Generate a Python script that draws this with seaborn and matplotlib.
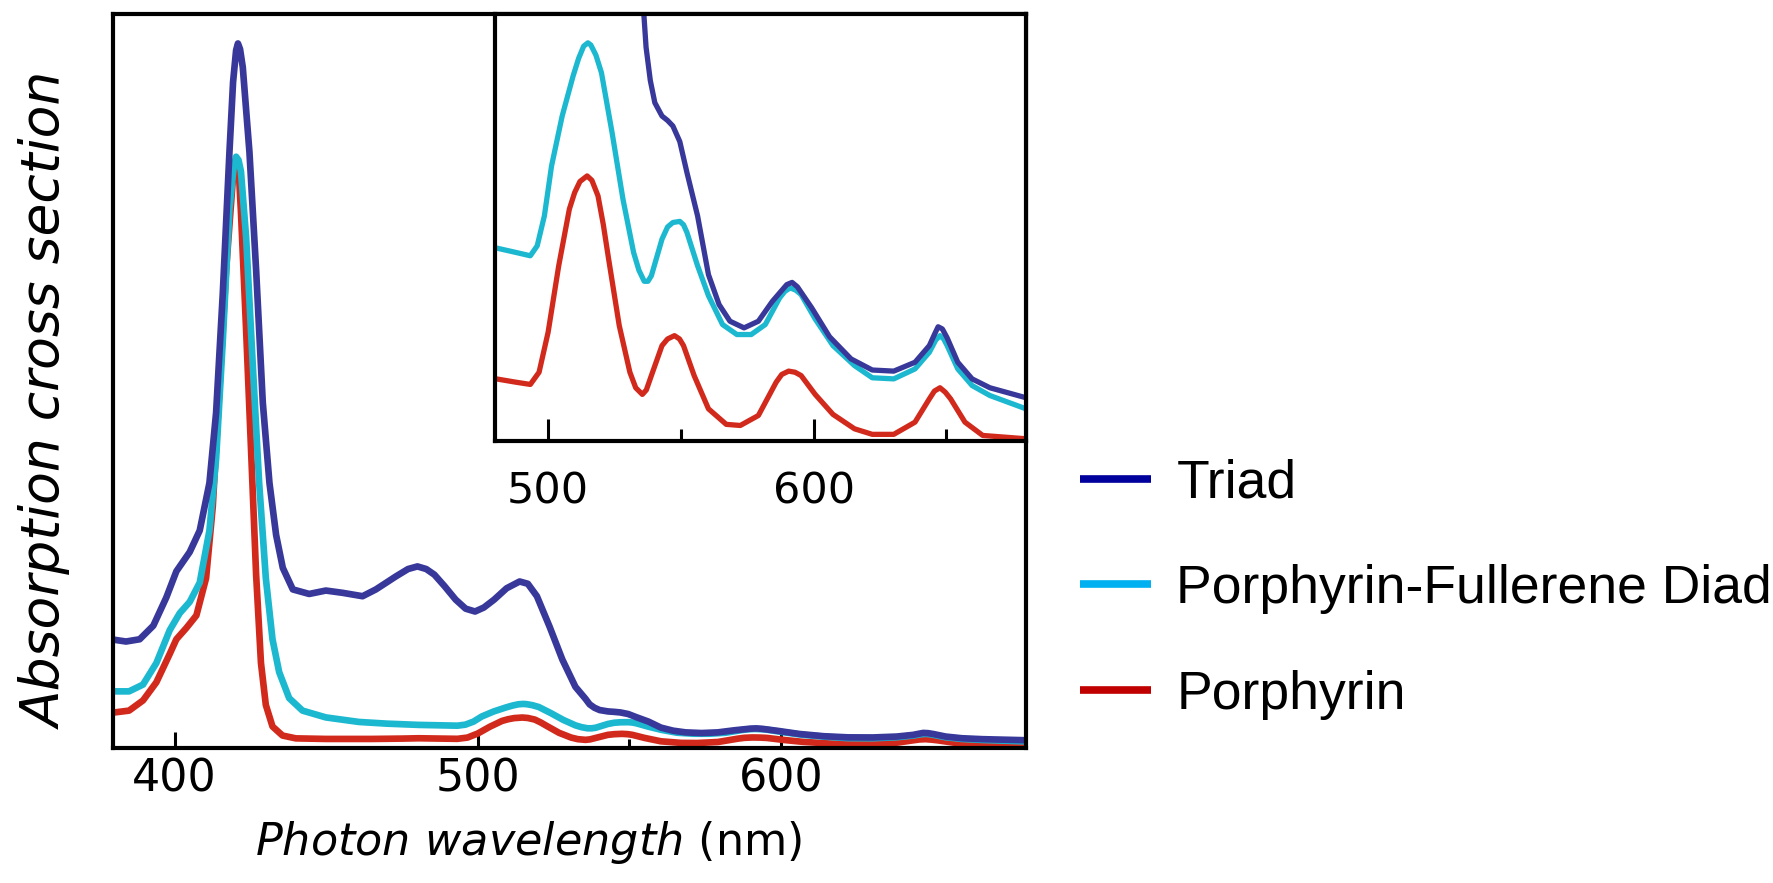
import matplotlib
matplotlib.use("Agg")
import matplotlib.pyplot as plt
import seaborn as sns
import pandas as pd
from matplotlib.lines import Line2D
from matplotlib.ticker import FixedLocator, NullFormatter

# ---------------- data ----------------
series_names = ["Triad", "Porphyrin-Fullerene Diad", "Porphyrin"]

triad_nm = [379, 384, 388.5, 393, 397.3, 400.6, 405, 408.3, 411.5, 413.7, 415.9,
            418.1, 419.3, 420.3, 420.9, 421.6, 422.5, 424.7, 426.9, 429.1, 431.3,
            433.5, 435.7, 439, 444.4, 449.9, 455.4, 462, 466.4, 473, 477, 480.1,
            483, 485.7, 489, 492.7, 496, 499.1, 502, 505.4, 509.5, 513.8, 516.5,
            519.5, 523.7, 527.9, 532.2, 535.5, 536.9, 538.5, 540.2, 542.9, 545.0,
            547.0, 549.6, 552.3, 556.3, 560.4, 564.4, 568.5, 573.8, 579.2, 584.5,
            589.9, 591.9, 593.9, 599.3, 606.0, 614.1, 622.1, 630.2, 638.2, 643.6,
            645.5, 646.9, 648.5, 650.3, 654.3, 659.7, 666.4, 680]
triad_abs = [93, 91, 93, 105, 130, 153, 170, 189, 231, 293, 398,
             523, 585, 613, 619, 614, 598, 523, 419, 302, 231,
             185, 156, 137, 133, 136, 134, 131, 137, 148.5, 155, 157.3,
             155, 150, 140, 128, 120, 117.5, 121, 128, 138, 144, 142,
             131, 104, 75, 51, 40.5, 35.5, 32.5, 30.5, 29.3, 28.9,
             28.4, 27.0, 24.2, 20.3, 15.0, 12.3, 10.8, 10.2, 10.8, 12.6,
             14.1, 14.3, 13.9, 12.0, 9.4, 7.4, 6.4, 6.3, 7.1, 8.6,
             9.6, 10.3, 10.1, 9.3, 7.1, 5.6, 4.8, 3.9]

diad_nm = [379, 385, 389.6, 394, 398.4, 401.7, 405, 408.3, 411.5, 413.7, 415.9,
           418.1, 419.5, 420.3, 421.1, 421.9, 423.6, 425.8, 427.9, 430.1, 432.3,
           434.5, 437.8, 442.2, 449.9, 460.8, 470, 480.5, 487.9, 493.3, 495.9,
           498.6, 501.3, 505.3, 509.4, 511.5, 513.4, 515.0, 516.1, 518.0, 520.1,
           524.1, 528.2, 532.2, 534.2, 536.2, 537.6, 538.9, 542.9, 545.0, 547.0,
           549.6, 551.0, 552.3, 556.3, 560.4, 565.7, 571.1, 576.5, 581.8, 587.2,
           589.2, 591.2, 593.3, 595.3, 600.6, 607.3, 615.4, 622.1, 630.2, 638.2,
           643.6, 646.0, 647.6, 649.0, 650.3, 654.3, 659.7, 666.4, 680]
diad_abs = [47, 47, 53, 72, 101, 116, 126, 143, 189, 252, 356,
            473, 510, 519, 516, 506, 448, 335, 231, 147, 93,
            64, 41, 30, 24, 20, 18.5, 17.4, 17.0, 16.7, 17.6,
            20.3, 24.8, 29.3, 32.9, 34.5, 35.6, 35.9, 35.7, 34.8, 33.2,
            27.8, 21.8, 17.0, 15.4, 14.4, 14.4, 14.9, 18.2, 19.3, 19.7,
            19.8, 19.5, 18.8, 15.8, 13.1, 10.5, 9.6, 9.6, 10.5, 12.9,
            13.5, 13.8, 13.6, 13.2, 11.0, 8.6, 6.8, 5.7, 5.6, 6.5,
            8.0, 9.1, 9.5, 9.2, 8.6, 6.5, 5.0, 4.1, 2.9]

porph_nm = [379, 385, 389.6, 394, 398.4, 400.6, 403.9, 407.2, 410.4, 412.6, 414.8,
            417, 419.2, 420.3, 421.2, 421.9, 423.6, 425.2, 426.9, 428.5, 430.1,
            432.3, 435.6, 440, 450, 465, 475, 480.5, 487.9, 493.3, 496.6,
            500.0, 504.0, 508.0, 510.0, 512.0, 514.7, 516.5, 518.8, 520.8, 522.8,
            526.8, 530.8, 533.0, 535.5, 537.0, 538.9, 542.9, 545.0, 547.6, 549.5,
            551.0, 555.0, 560.4, 567.1, 572.4, 579.2, 585.9, 588.0, 590.6, 593.0,
            595.3, 600.6, 607.3, 615.4, 622.1, 630.2, 638.2, 643.6, 645.5, 647.6,
            649.6, 651.6, 657.0, 663.7, 680]
porph_abs = [28, 30, 39, 55, 80, 93, 103, 114, 147, 210, 314,
             419, 498, 514, 505, 470, 366, 262, 150, 72, 35,
             16, 8, 5.5, 5, 5, 5.3, 5.6, 5.3, 5.1, 6.2,
             9.8, 15.8, 20.9, 22.4, 23.4, 23.9, 23.5, 22.1, 19.5, 16.4,
             10.4, 6.2, 4.8, 4.2, 4.6, 5.9, 8.6, 9.2, 9.5, 9.2,
             8.6, 5.9, 2.9, 1.5, 1.4, 2.3, 5.3, 6.0, 6.3, 6.2,
             5.9, 4.2, 2.4, 1.1, 0.6, 0.6, 1.7, 3.8, 4.5, 4.8,
             4.4, 3.8, 1.7, 0.5, 0.2]

main_major_ticks = [400, 500, 600]
main_minor_ticks = [550]
inset_major_ticks = [500, 600]
inset_minor_ticks = [550, 650]

line_colors = ["#38389a", "#1cb8d0", "#d12a1c"]
legend_colors = ["#00009c", "#00b0f0", "#c00000"]

# ---------------- style ----------------
sns.set_style("white")
plt.rcParams["font.family"] = ["DejaVu Sans"]
plt.rcParams["mathtext.fontset"] = "dejavusans"
plt.rcParams["text.color"] = "black"
plt.rcParams["xtick.color"] = "black"
plt.rcParams["xtick.labelcolor"] = "black"
plt.rcParams["axes.labelcolor"] = "black"

W, H = 1773, 883
fig = plt.figure(figsize=(W / 100, H / 100), dpi=100)

def frac_rect(l, t, r, b):
    return [l / W, 1 - b / H, (r - l) / W, (b - t) / H]

ax = fig.add_axes(frac_rect(113, 14, 1026, 748))
axin = fig.add_axes(frac_rect(495, 14, 1026, 441))

frames = {
    "Triad": pd.DataFrame({"nm": triad_nm, "abs": triad_abs}),
    "Porphyrin-Fullerene Diad": pd.DataFrame({"nm": diad_nm, "abs": diad_abs}),
    "Porphyrin": pd.DataFrame({"nm": porph_nm, "abs": porph_abs}),
}
order = ["Porphyrin", "Porphyrin-Fullerene Diad", "Triad"]

for a, lw in ((ax, 4.8), (axin, 3.8)):
    for name in order:
        c = line_colors[series_names.index(name)]
        sns.lineplot(data=frames[name], x="nm", y="abs", ax=a, color=c,
                     linewidth=lw, estimator=None, sort=True, legend=False)
    a.set_xlabel("")
    a.set_ylabel("")
    a.set_yticks([])
    for s in a.spines.values():
        s.set_visible(True)
        s.set_color("black")
        s.set_linewidth(3.0)
    a.set_facecolor("white")

ax.set_xlim(379.7, 680.8)
ax.set_ylim(-3, 645)
ax.xaxis.set_major_locator(FixedLocator(main_major_ticks))
ax.xaxis.set_minor_locator(FixedLocator(main_minor_ticks))
ax.tick_params(axis="x", which="major", direction="in", length=11.5, width=2.2,
               pad=7, labelsize=32, bottom=True, colors="black")
ax.tick_params(axis="x", which="minor", direction="in", length=6.5, width=2.2,
               bottom=True, colors="black")

axin.set_xlim(480, 680)
axin.set_ylim(0, 38.5)
axin.xaxis.set_major_locator(FixedLocator(inset_major_ticks))
axin.xaxis.set_minor_locator(FixedLocator(inset_minor_ticks))
axin.xaxis.set_minor_formatter(NullFormatter())
axin.tick_params(axis="x", which="major", direction="in", length=16, width=2.2,
                 pad=21, labelsize=31, bottom=True, colors="black")
axin.tick_params(axis="x", which="minor", direction="in", length=8.5, width=2.2,
                 bottom=True, colors="black")

fig.text(529 / W, 1 - 843 / H, r"$\mathit{Photon\ wavelength}$ (nm)",
         ha="center", va="center", fontsize=32)
fig.text(47 / W, 1 - 401 / H, "Absorption cross section", rotation=90,
         ha="center", va="center", fontsize=38.5, style="italic")

handles = [Line2D([], [], color=c, linewidth=5.5, solid_capstyle="butt")
           for c in legend_colors]
fig.legend(handles, series_names, loc="center left",
           bbox_to_anchor=(1080 / W, 1 - 589 / H), frameon=False,
           prop={"family": "Liberation Sans", "size": 38.5},
           handlelength=1.33, handletextpad=0.47, labelspacing=1.04,
           borderpad=0, borderaxespad=0, labelcolor="black")

fig.savefig("out.png", dpi=100)
